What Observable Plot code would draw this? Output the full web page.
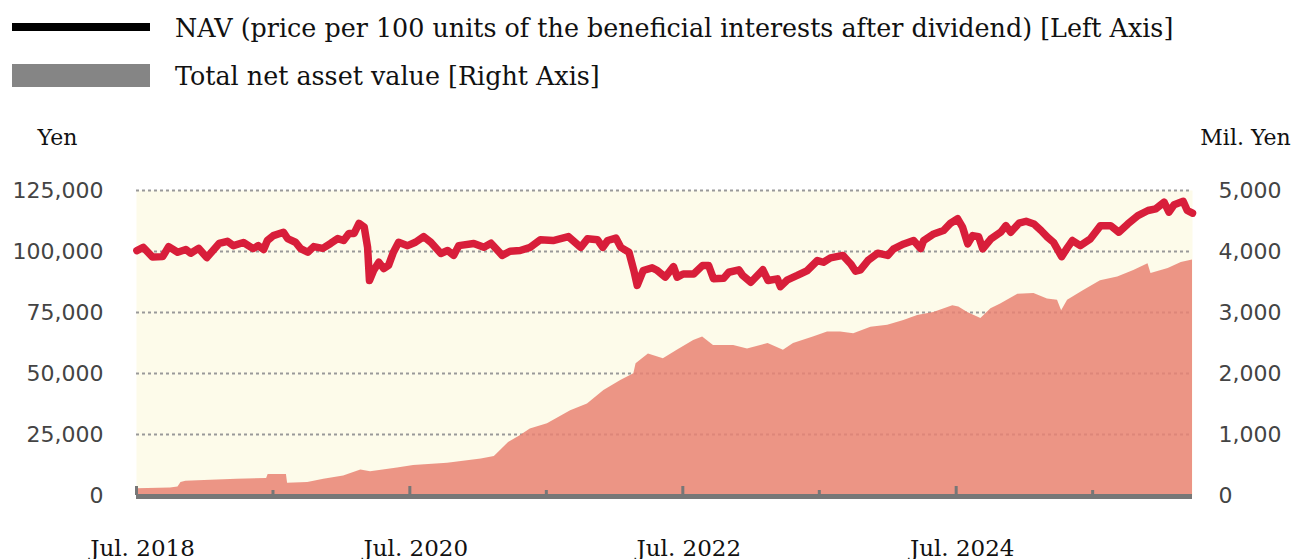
<!DOCTYPE html>
<html>
<head>
<meta charset="utf-8">
<script src="https://cdn.jsdelivr.net/npm/d3@7"></script>
<script src="https://cdn.jsdelivr.net/npm/@observablehq/plot@0.6"></script>
<style>
  html, body { margin: 0; padding: 0; background: #fff; }
  #legend { position: relative; width: 1292px; height: 100px; font-family: "DejaVu Serif", serif; color: #111; }
  .sw { position: absolute; left: 12px; width: 138px; }
  .lt { position: absolute; left: 175px; font-size: 25.4px; line-height: 30px; white-space: nowrap; }
</style>
</head>
<body>
<div id="legend">
  <div class="sw" style="top:23px;height:8px;background:#000;"></div>
  <div class="lt" style="top:13px;">NAV (price per 100 units of the beneficial interests after dividend) [Left Axis]</div>
  <div class="sw" style="top:64px;height:23px;background:#858585;"></div>
  <div class="lt" style="top:61px;">Total net asset value [Right Axis]</div>
</div>
<div id="chart"></div>
<script>
// NAV (Yen, left axis)
const navDates = [
"2018-07-02","2018-07-19","2018-08-13","2018-09-09","2018-09-25","2018-10-19","2018-11-10","2018-11-23","2018-12-14","2019-01-05",
"2019-02-07","2019-03-01","2019-03-17","2019-04-13","2019-05-09","2019-05-23","2019-06-06","2019-06-16","2019-07-02","2019-07-29",
"2019-08-09","2019-08-30","2019-09-13","2019-10-02","2019-10-18","2019-11-11","2019-12-02","2019-12-21","2020-01-06","2020-01-20",
"2020-02-03","2020-02-16","2020-03-01","2020-03-10","2020-03-15","2020-03-26","2020-04-09","2020-04-22","2020-05-05","2020-05-18",
"2020-06-01","2020-06-25","2020-07-16","2020-08-07","2020-08-26","2020-09-22","2020-10-10","2020-10-26","2020-11-09","2020-12-19",
"2021-01-15","2021-02-03","2021-03-05","2021-03-26","2021-04-22","2021-05-19","2021-06-15","2021-07-19","2021-08-29","2021-10-01",
"2021-10-19","2021-11-15","2021-11-29","2021-12-12","2022-01-03","2022-01-16","2022-02-07","2022-02-20","2022-03-01","2022-03-17",
"2022-04-10","2022-04-24","2022-05-15","2022-06-06","2022-06-16","2022-07-02","2022-07-30","2022-08-23","2022-09-08","2022-09-21",
"2022-10-18","2022-11-01","2022-11-28","2022-12-08","2022-12-30","2023-01-31","2023-02-14","2023-03-11","2023-03-19","2023-04-07",
"2023-05-03","2023-05-30","2023-06-26","2023-07-12","2023-07-31","2023-09-02","2023-09-23","2023-10-06","2023-10-19","2023-11-08",
"2023-12-04","2023-12-31","2024-01-16","2024-02-12","2024-03-09","2024-03-28","2024-04-05","2024-05-02","2024-05-28","2024-06-16",
"2024-07-05","2024-07-18","2024-08-01","2024-08-14","2024-08-30","2024-09-10","2024-10-02","2024-10-28","2024-11-11","2024-11-24",
"2024-12-16","2025-01-04","2025-01-25","2025-02-13","2025-03-02","2025-03-18","2025-04-09","2025-04-25","2025-05-08","2025-05-29",
"2025-06-25","2025-07-22","2025-08-18","2025-09-09","2025-10-03","2025-10-30","2025-11-26","2025-12-17","2026-01-08","2026-01-21",
"2026-02-04","2026-02-28","2026-03-11","2026-03-25"
];
const navValues = [
100400,101700,97700,97900,102000,99700,100800,99300,101300,97500,
103300,104200,102400,103700,101200,102400,100800,104500,106500,107900,
105300,103800,101200,99700,102000,101300,103300,105300,104500,107400,
107400,111500,110000,101700,88100,92200,95600,93000,94300,99700,
103800,102400,103800,106100,103800,99200,100400,98400,102400,103300,
101700,103400,98400,100100,100400,101700,104800,104500,106100,101700,
105200,104800,101700,104500,105500,101700,99700,92200,86100,92200,
93300,92200,89500,93800,89500,90800,90800,94300,94300,88800,
89000,91500,92500,90200,87400,92500,88100,88800,85600,88400,
90200,92200,96300,95600,97400,98400,94900,91900,92500,96300,
99300,98400,101100,103100,104500,101200,104500,107200,108600,111600,
113400,110000,103100,106500,106100,101100,105200,107900,110600,107900,
111600,112400,111300,108600,105900,103800,97900,101700,104500,102400,
105200,110600,110600,107900,111300,114700,116800,117500,120200,116100,
119200,120600,116800,115700
];

// Total net asset value (Mil. Yen, right axis)
const tnaDates = [
"2018-07-02","2018-09-30","2018-10-20","2018-10-28","2018-11-10","2019-01-16","2019-03-27","2019-06-14","2019-06-18","2019-08-06",
"2019-08-09","2019-10-02","2019-11-14","2020-01-06","2020-02-21","2020-03-18","2020-05-29","2020-07-11","2020-10-10","2021-01-08",
"2021-02-12","2021-03-01","2021-03-22","2021-04-22","2021-05-19","2021-07-04","2021-09-04","2021-10-19","2021-12-02","2022-01-16",
"2022-02-20","2022-02-26","2022-03-31","2022-05-10","2022-06-16","2022-07-30","2022-08-23","2022-09-21","2022-11-14","2022-12-21",
"2023-02-14","2023-03-27","2023-04-23","2023-06-15","2023-07-23","2023-08-27","2023-10-01","2023-11-16","2023-12-31","2024-02-12",
"2024-03-20","2024-05-02","2024-06-22","2024-07-08","2024-08-01","2024-09-05","2024-10-02","2024-10-28","2024-12-13","2025-01-25",
"2025-03-02","2025-03-29","2025-04-09","2025-04-25","2025-06-07","2025-07-22","2025-09-06","2025-10-19","2025-11-26","2025-12-04",
"2026-01-19","2026-02-23","2026-03-25"
];
const tnaValues = [
110,125,140,215,235,250,265,280,345,345,
200,212,265,320,420,390,450,490,530,600,
640,740,870,980,1090,1175,1390,1500,1720,1885,
1995,2160,2320,2240,2380,2540,2600,2460,2460,2400,
2490,2380,2490,2600,2680,2680,2650,2760,2790,2870,
2950,3000,3110,3090,3000,2900,3060,3140,3300,3310,
3220,3200,3030,3200,3360,3520,3580,3690,3800,3640,
3720,3820,3860
];

// Axes
const leftTicks = [0, 25000, 50000, 75000, 100000, 125000];
const leftTickLabels = ["0", "25,000", "50,000", "75,000", "100,000", "125,000"];
const rightTickLabels = ["0", "1,000", "2,000", "3,000", "4,000", "5,000"];
const rightPerLeft = 25; // 125,000 Yen on the left axis ↔ 5,000 Mil. Yen on the right
const gridValues = [25000, 50000, 75000, 100000, 125000];
const xMajorTicks = ["2018-07-01","2020-07-01","2022-07-01","2024-07-01"];
const xMajorLabels = ["Jul. 2018","Jul. 2020","Jul. 2022","Jul. 2024"];
const xMinorTicks = ["2019-07-01","2021-07-01","2023-07-01","2025-07-01"];

const nav = navDates.map((d, i) => ({date: new Date(d), value: navValues[i]}));
const tna = tnaDates.map((d, i) => ({date: new Date(d), value: tnaValues[i]}));
const majors = xMajorTicks.map(d => new Date(d));
const minors = xMinorTicks.map(d => new Date(d));

const serif = "'DejaVu Serif', serif";
const sans = "'DejaVu Sans', Verdana, sans-serif";

const chart = Plot.plot({
  width: 1292,
  height: 459,
  marginTop: 90,
  marginBottom: 64,
  marginLeft: 136,
  marginRight: 100,
  style: {background: "white", overflow: "visible"},
  x: {type: "utc", domain: [new Date("2018-07-01"), new Date("2026-03-25")]},
  y: {domain: [0, 125000]},
  marks: [
    Plot.frame({fill: "#fdfbea", stroke: null}),
    Plot.ruleY(gridValues, {stroke: "#999", strokeWidth: 2, strokeDasharray: "3,3"}),
    Plot.areaY(tna, {x: "date", y: d => d.value * rightPerLeft, fill: "rgb(233,131,115)", fillOpacity: 0.85}),
    Plot.ruleY([0], {stroke: "#777", strokeWidth: 5, dy: 1}),
    Plot.ruleX(majors, {x: d => d, stroke: "#777", strokeWidth: 3, insetTop: 296}),
    Plot.ruleX(minors, {x: d => d, stroke: "#777", strokeWidth: 3, insetTop: 300}),
    Plot.lineY(nav, {x: "date", y: "value", stroke: "#d81e3a", strokeWidth: 7.5, strokeLinejoin: "round", strokeLinecap: "round"}),
    Plot.axisX(majors, {tickSize: 0, tickPadding: 44, dx: 6, tickFormat: (d, i) => xMajorLabels[i], fontSize: 23, fontFamily: serif, fill: "#111", label: null}),
    Plot.axisY(leftTicks, {anchor: "left", tickSize: 0, tickPadding: 33, tickFormat: (d, i) => leftTickLabels[i], fontSize: 22, fontFamily: sans, fill: "#444", label: null}),
    Plot.axisY(leftTicks, {anchor: "right", tickSize: 0, tickPadding: 26, tickFormat: (d, i) => rightTickLabels[i], fontSize: 22, fontFamily: sans, fill: "#444", label: null}),
    Plot.text(["Yen"], {text: d => d, frameAnchor: "top-left", dx: -79, dy: -53, textAnchor: "middle", lineAnchor: "middle", fontSize: 22, fontFamily: serif, fill: "#111"}),
    Plot.text(["Mil. Yen"], {text: d => d, frameAnchor: "top-right", dx: 53, dy: -53, textAnchor: "middle", lineAnchor: "middle", fontSize: 22, fontFamily: serif, fill: "#111"})
  ]
});
document.getElementById("chart").appendChild(chart);
</script>
</body>
</html>
